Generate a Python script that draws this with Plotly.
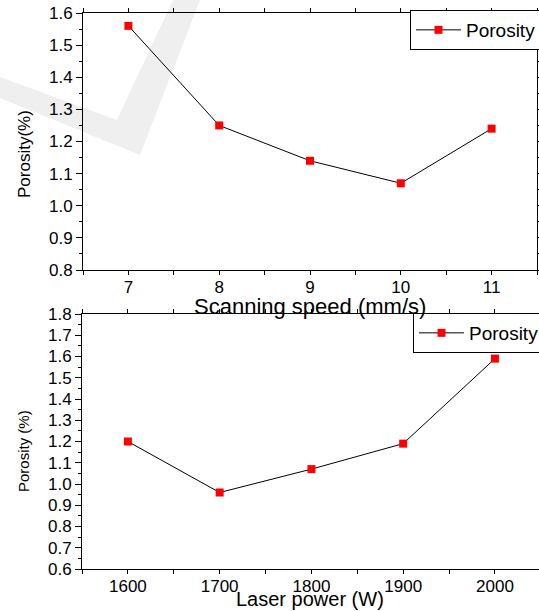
import plotly.graph_objects as go

speed = [7, 8, 9, 10, 11]
porosity_speed = [1.56, 1.25, 1.14, 1.07, 1.24]
power = [1600, 1700, 1800, 1900, 2000]
porosity_power = [1.20, 0.96, 1.07, 1.19, 1.59]

W, H = 539, 611
FONT = "Liberation Sans, Arial, sans-serif"

def px(x):
    return x / W

def py(y):
    return 1 - y / H

fig = go.Figure()
mk = dict(symbol="square", size=8, color="#ff0000")
ln = dict(color="black", width=1)
fig.add_trace(go.Scatter(x=speed, y=porosity_speed, mode="lines+markers", name="Porosity",
                         marker=mk, line=ln, xaxis="x", yaxis="y", legend="legend"))
fig.add_trace(go.Scatter(x=power, y=porosity_power, mode="lines+markers", name="Porosity",
                         marker=mk, line=ln, xaxis="x2", yaxis="y2", legend="legend2"))

axbase = dict(showline=True, linecolor="black", linewidth=1, mirror="ticks", ticks="outside",
              tickcolor="black", showgrid=False, zeroline=False, automargin=False,
              tickfont=dict(family=FONT, size=17, color="black"))

fig.update_layout(
    width=W, height=H, margin=dict(l=0, r=0, t=0, b=0, autoexpand=False),
    paper_bgcolor="white", plot_bgcolor="rgba(0,0,0,0)",
    xaxis=dict(axbase, domain=[px(83), px(537)], anchor="y", range=[6.5, 11.5],
               tickmode="array", tickvals=speed, ticklen=2,
               minor=dict(dtick=0.5, tick0=6.5, ticks="outside", ticklen=4, tickcolor="black")),
    yaxis=dict(axbase, domain=[py(270), py(13)], anchor="x", range=[0.8, 1.6],
               dtick=0.1, tickformat=".1f", ticklen=6,
               minor=dict(dtick=0.05, ticks="outside", ticklen=3, tickcolor="black")),
    xaxis2=dict(axbase, domain=[px(82), 1.0], anchor="y2", range=[1550, 2048],
                tickmode="array", tickvals=power, ticklen=2,
                minor=dict(dtick=50, tick0=1550, ticks="outside", ticklen=4, tickcolor="black")),
    yaxis2=dict(axbase, domain=[py(569), py(314)], anchor="x2", range=[0.6, 1.8],
                dtick=0.1, tickformat=".1f", ticklen=6,
                minor=dict(dtick=0.05, ticks="outside", ticklen=3, tickcolor="black")),
    legend=dict(x=px(542), y=py(10), xanchor="right", yanchor="top", bgcolor="white",
                bordercolor="black", borderwidth=1, font=dict(family=FONT, size=19, color="black"),
                itemwidth=45, tracegroupgap=0),
    legend2=dict(x=px(545), y=py(313), xanchor="right", yanchor="top", bgcolor="white",
                 bordercolor="black", borderwidth=1, font=dict(family=FONT, size=19, color="black"),
                 itemwidth=45, tracegroupgap=0),
    showlegend=True,
)

# titles as annotations
fig.add_annotation(text="Scanning speed (mm/s)", xref="paper", yref="paper", x=px(310), y=py(306),
                   showarrow=False, font=dict(family=FONT, size=22, color="black"),
                   xanchor="center", yanchor="middle")
fig.add_annotation(text="Laser power (W)", xref="paper", yref="paper", x=px(310), y=py(599),
                   showarrow=False, font=dict(family=FONT, size=20, color="black"),
                   xanchor="center", yanchor="middle")
fig.add_annotation(text="Porosity(%)", xref="paper", yref="paper", x=px(24), y=py(154),
                   showarrow=False, textangle=-90, font=dict(family=FONT, size=17, color="black"),
                   xanchor="center", yanchor="middle")
fig.add_annotation(text="Porosity (%)", xref="paper", yref="paper", x=px(23), y=py(451),
                   showarrow=False, textangle=-90, font=dict(family=FONT, size=15, color="black"),
                   xanchor="center", yanchor="middle")

# faint watermark check mark
pts = [(0, 77), (117, 120), (173, 0), (200, 0), (140, 155), (0, 98)]
path = "M " + " L ".join(f"{px(x):.4f},{py(y):.4f}" for x, y in pts) + " Z"
fig.add_shape(type="path", path=path, xref="paper", yref="paper", fillcolor="#efefef",
              line=dict(width=0), layer="below")

fig.write_html("out.html", post_script="document.body.style.margin='0';")
